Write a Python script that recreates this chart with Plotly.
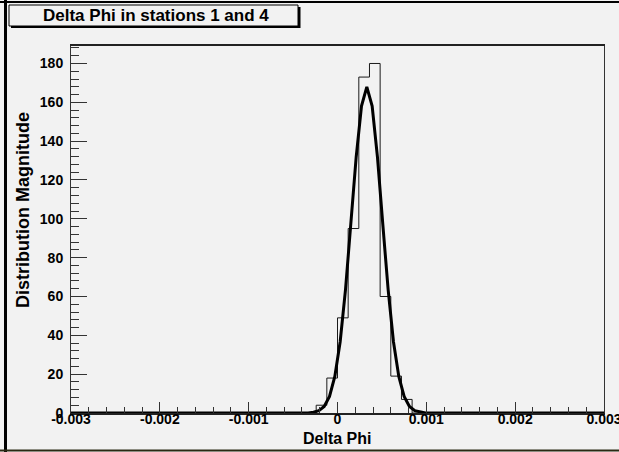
import plotly.graph_objects as go

# ---------------- data ----------------
x_min, x_max, n_bins = -0.003, 0.003, 50
bin_width = (x_max - x_min) / n_bins
# histogram counts (50 bins from -0.003 to 0.003)
counts = [0] * 23 + [4, 18, 49, 95, 173, 180, 60, 19, 7] + [0] * 18

# Gaussian fit curve
fit_x = [-0.003, -0.00033, -0.00027, -0.00021, -0.00015, -0.00009, -0.00003,
         0.00003, 0.00009, 0.00015, 0.00021, 0.00027, 0.00033, 0.00039,
         0.00045, 0.00051, 0.00057, 0.00063, 0.00069, 0.00075, 0.00081,
         0.00087, 0.00093, 0.00099, 0.003]
fit_y = [0, 0, 0.4, 1.2, 3.4, 8.5, 18.8, 36.7, 63.5, 97.1, 131.7, 158.1, 168,
         158.1, 131.7, 97.1, 63.5, 36.7, 18.8, 8.5, 3.4, 1.2, 0.4, 0, 0]

x_ticks = [-0.003, -0.002, -0.001, 0, 0.001, 0.002, 0.003]
x_tick_text = ["-0.003", "-0.002", "-0.001", "0", "0.001", "0.002", "0.003"]
y_ticks = [0, 20, 40, 60, 80, 100, 120, 140, 160, 180]

title_text = "Delta Phi in stations 1 and 4"
x_title = "Delta Phi"
y_title = "Distribution Magnitude"

# ---------------- layout geometry ----------------
W, H = 619, 452
L, R, T, B = 71, 604, 46, 413
BG = "rgb(242,242,242)"
FONT = "Liberation Sans, Arial, Helvetica, sans-serif"


def px(xp):
    return (xp - L) / (R - L)


def py(yp):
    return (B - yp) / (B - T)


edges = [x_min + i * bin_width for i in range(n_bins + 1)]
hist_y = counts + [counts[-1]]

fig = go.Figure()
fig.add_trace(go.Scatter(x=edges, y=hist_y, mode="lines", line_shape="hv",
                         line=dict(color="#1a1a1a", width=1),
                         hoverinfo="skip", showlegend=False))
fig.add_trace(go.Scatter(x=fit_x, y=fit_y, mode="lines",
                         line=dict(color="black", width=3),
                         hoverinfo="skip", showlegend=False))

fig.update_layout(
    width=W, height=H, autosize=False,
    margin=dict(l=L, r=W - R, t=T, b=H - B, pad=0, autoexpand=False),
    paper_bgcolor=BG, plot_bgcolor=BG,
    font=dict(family=FONT, size=14, color="black"),
    showlegend=False,
)
fig.update_xaxes(
    range=[x_min, x_max], showgrid=False, zeroline=False, automargin=False,
    tickvals=x_ticks, ticktext=x_tick_text,
    ticks="inside", ticklen=11, tickwidth=1, tickcolor="#333",
    minor=dict(dtick=0.0002, tick0=0, ticks="inside", ticklen=6,
               tickcolor="#333", showgrid=False),
    showline=True, linecolor="#222", linewidth=2, mirror=True,
    tickfont=dict(family=FONT, size=14, weight="bold", color="black"),
    ticklabeloverflow="allow", ticklabelstandoff=-8,
)
fig.update_yaxes(
    range=[0, 189], showgrid=False, zeroline=False, automargin=False,
    tickvals=y_ticks, ticks="inside", ticklen=16, tickwidth=1, tickcolor="#333",
    minor=dict(dtick=4, tick0=0, ticks="inside", ticklen=8,
               tickcolor="#333", showgrid=False),
    showline=True, linecolor="#333", linewidth=1, mirror=True,
    tickfont=dict(family=FONT, size=14, weight="bold", color="black"),
    ticklabelstandoff=4, ticklabeloverflow="allow",
)

P = dict(xref="paper", yref="paper")
shapes = [
    # canvas borders
    dict(type="line", x0=px(0), x1=px(W), y0=py(2), y1=py(2),
         line=dict(color="black", width=2), **P),
    dict(type="line", x0=px(5.5), x1=px(5.5), y0=py(0), y1=py(H),
         line=dict(color="black", width=3), **P),
    dict(type="line", x0=px(0), x1=px(W), y0=py(450.5), y1=py(450.5),
         line=dict(color="#2a2a14", width=2), **P),
    # title box shadow
    dict(type="rect", x0=px(11), x1=px(300.5), y0=py(28), y1=py(7),
         fillcolor="black", line=dict(width=0), **P),
    # title box
    dict(type="rect", x0=px(9), x1=px(298), y0=py(26), y1=py(5),
         fillcolor=BG, line=dict(color="black", width=1), **P),
]
fig.update_layout(shapes=shapes)

fig.add_annotation(x=px(156), y=py(15.5), xref="paper", yref="paper",
                   text=title_text, showarrow=False, xanchor="center",
                   yanchor="middle",
                   font=dict(family=FONT, size=17, weight="bold", color="black"))
fig.add_annotation(x=px(337), y=py(438), xref="paper", yref="paper",
                   text=x_title, showarrow=False, xanchor="center",
                   yanchor="middle",
                   font=dict(family=FONT, size=16, weight="bold", color="black"))
fig.add_annotation(x=px(23), y=py(210), xref="paper", yref="paper",
                   text=y_title, showarrow=False, textangle=-90,
                   xanchor="center", yanchor="middle",
                   font=dict(family=FONT, size=18, weight="bold", color="black"))

fig.write_html("out.html")
